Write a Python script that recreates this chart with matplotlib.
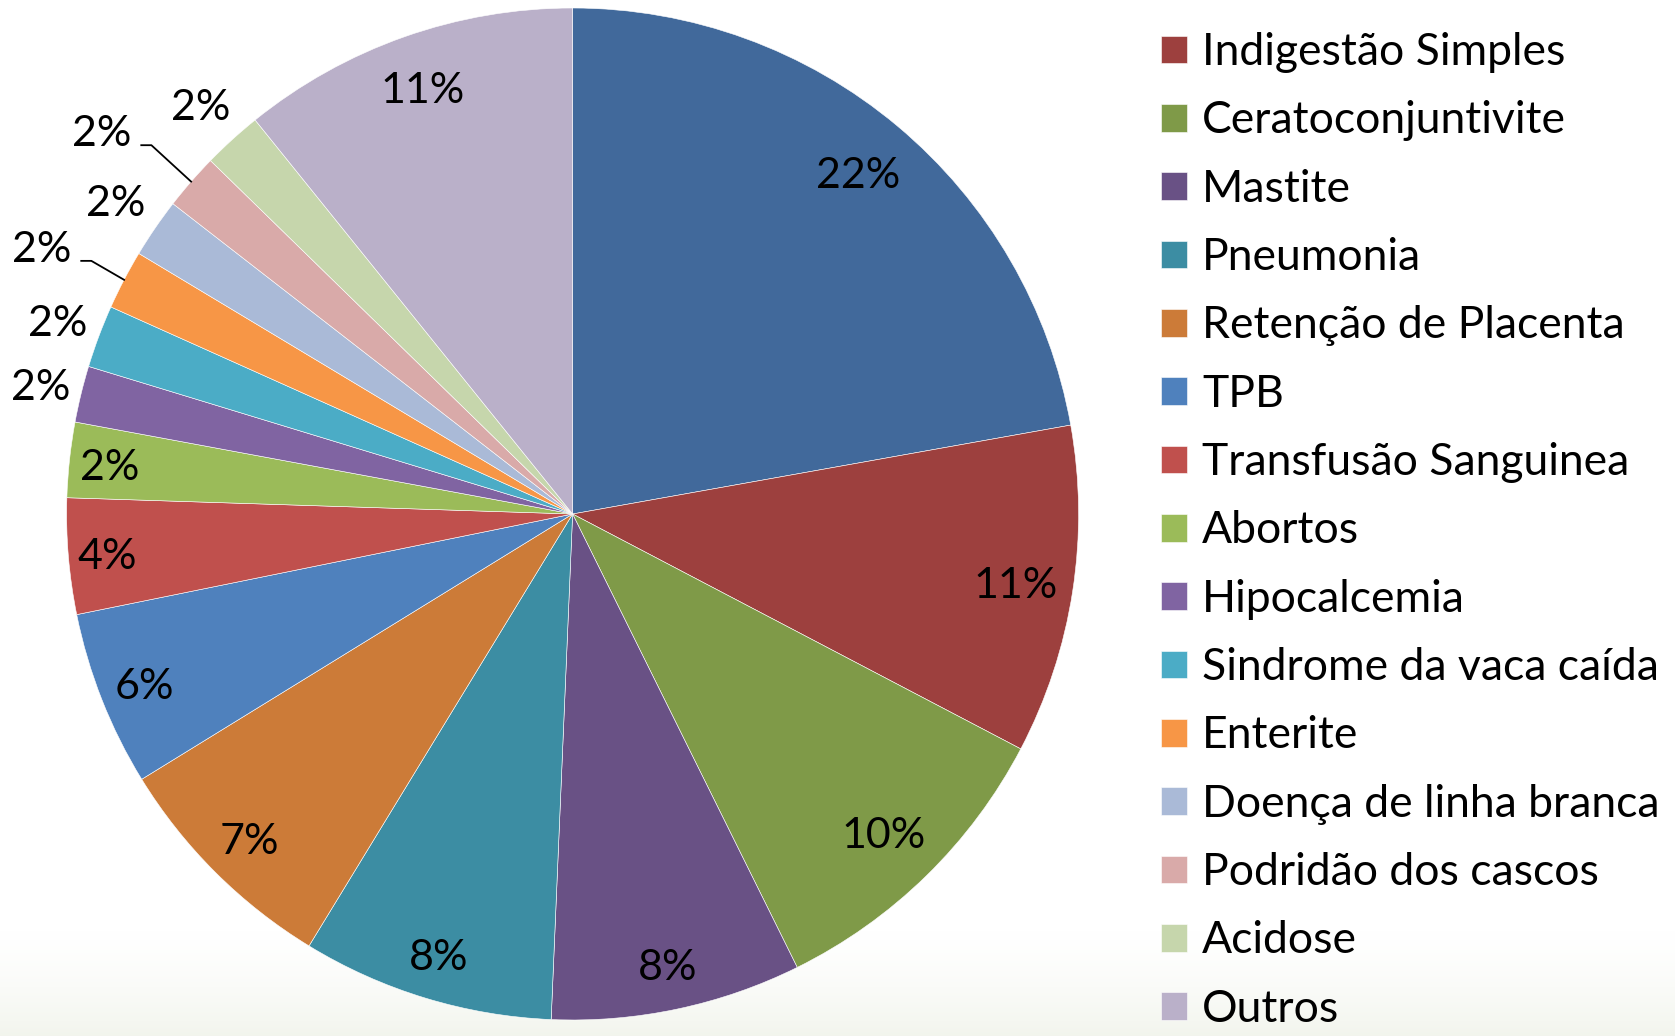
import matplotlib
matplotlib.use("Agg")
import matplotlib.pyplot as plt
import numpy as np

# ---- data ----
values = [22.2, 10.5, 10.0, 8.0, 8.05, 7.5, 5.6, 3.7, 2.4, 1.8, 2.0, 1.9, 1.9, 1.8, 1.9, 10.8]
pct_labels = ["22%", "11%", "10%", "8%", "8%", "7%", "6%", "4%",
              "2%", "2%", "2%", "2%", "2%", "2%", "2%", "11%"]
# legend entries visible in the picture (first slice's entry is cropped off above)
legend_labels = ["Indigestão Simples", "Ceratoconjuntivite", "Mastite", "Pneumonia",
                 "Retenção de Placenta", "TPB", "Transfusão Sanguinea", "Abortos",
                 "Hipocalcemia", "Sindrome da vaca caída", "Enterite",
                 "Doença de linha branca", "Podridão dos cascos", "Acidose", "Outros"]
colors = ["#41699B", "#9D403E", "#7F9A48", "#695185", "#3C8DA3", "#CC7B38",
          "#4F81BD", "#C0504D", "#9BBB59", "#8064A2", "#4BACC6", "#F79646",
          "#AABAD7", "#D9AAA9", "#C6D6AC", "#BAB0C9"]
label_r = [0.88, 0.885, 0.88, 0.91, 0.91, 0.905, 0.91, 0.923, 0.92,
           1.083, 1.087, 1.175, 1.095, 1.2, 1.093, 0.893]
label_dtheta = [0, 0, 0, 0, 0, 0, 0, 0, 0, 0, 0, 0.8, 0, 1.9, 0, 0]
leader_idx = [11, 13]

plt.rcParams['font.family'] = ['Lato', 'DejaVu Sans']

fig = plt.figure(figsize=(16.75, 10.36), dpi=100)
fig.patch.set_facecolor('white')

# faint background fade at the bottom
bg = fig.add_axes([0, 0, 1, 1], zorder=-10)
t = np.clip((np.arange(1036) - 930) / 106.0, 0, 1) ** 1.5
base = np.array([0.95, 0.96, 0.93])
grad = np.ones((1036, 2, 3)) * (1 - t[:, None, None]) + base * t[:, None, None]
bg.imshow(grad, aspect='auto', extent=[0, 1, 0, 1], origin='upper')
bg.axis('off')

ax = fig.add_axes([66.6 / 1675, 16 / 1036, 1012 / 1675, 1012 / 1036])

wedges, _ = ax.pie(values, colors=colors, startangle=90, counterclock=False,
                   radius=1.0, wedgeprops=dict(edgecolor='white', linewidth=0.4))
ax.set_xlim(-1, 1)
ax.set_ylim(-1, 1)
ax.set_aspect('equal')
ax.axis('off')

for i, w in enumerate(wedges):
    mid_deg = (w.theta1 + w.theta2) / 2
    mid = np.deg2rad(mid_deg + label_dtheta[i])
    r = label_r[i]
    x, y = r * np.cos(mid), r * np.sin(mid) - 0.007
    ax.text(x, y, pct_labels[i], ha='center', va='center', fontsize=31,
            color='black', clip_on=False)
    if i in leader_idx:
        em = np.deg2rad(mid_deg)
        ex, ey = np.cos(em), np.sin(em)
        hx0 = x + 0.078
        hx1 = x + 0.098
        hy = y - 0.022
        ax.plot([hx0, hx1, ex], [hy, hy, ey], color='black', lw=1.3, clip_on=False)

leg = fig.legend(wedges[1:], legend_labels, loc='upper left',
                 bbox_to_anchor=(1161 / 1675, 0.969), frameon=False,
                 fontsize=32, handlelength=0.585, handleheight=0.585,
                 handletextpad=0.34, labelspacing=0.615, borderpad=0,
                 borderaxespad=0)

fig.savefig("out.png", dpi=100, facecolor='white')
